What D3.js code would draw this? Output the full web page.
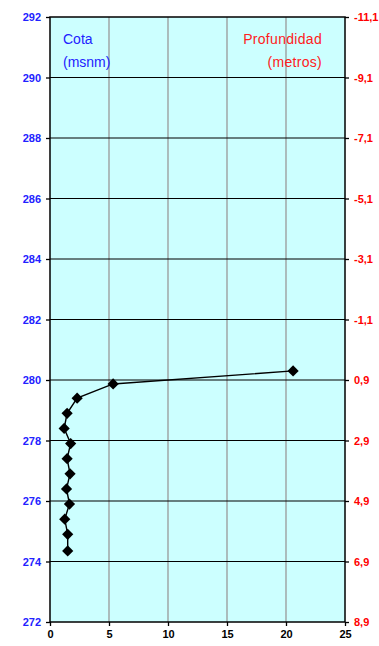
<!DOCTYPE html>
<html><head><meta charset="utf-8">
<script src="https://cdn.jsdelivr.net/npm/d3@7"></script>
<style>body{margin:0;background:#fff}svg{display:block}text{font-family:"Liberation Sans",Arial,sans-serif}</style>
</head><body><svg id="c" width="379" height="646"></svg>
<script>
const xValues = [20.6, 5.35, 2.3, 1.45, 1.2, 1.75, 1.45, 1.7, 1.4, 1.65, 1.25, 1.5, 1.5];
const cotaValues = [280.3, 279.87, 279.4, 278.9, 278.4, 277.9, 277.4, 276.9, 276.4, 275.9, 275.4, 274.9, 274.35];
const leftTicks = [272, 274, 276, 278, 280, 282, 284, 286, 288, 290, 292];
const rightTickLabels = ["8,9","6,9","4,9","2,9","0,9","-1,1","-3,1","-5,1","-7,1","-9,1","-11,1"];
const xTicks = [0, 5, 10, 15, 20, 25];

const svg = d3.select("#c");
const L = 50, R = 345, T = 17, B = 622;
const x = d3.scaleLinear().domain([0, 25]).range([L, R]);
const y = d3.scaleLinear().domain([272, 292]).range([B, T]);

svg.append("rect").attr("x", L).attr("y", T).attr("width", R - L).attr("height", B - T).attr("fill", "#ccffff");

// vertical grid
svg.append("g").selectAll("line").data(xTicks.slice(1, -1)).join("line")
  .attr("x1", d => x(d)).attr("x2", d => x(d)).attr("y1", T).attr("y2", B)
  .attr("stroke", "#999").attr("stroke-width", 1.3);
// horizontal grid
svg.append("g").selectAll("line").data(leftTicks.slice(1, -1)).join("line")
  .attr("x1", L).attr("x2", R).attr("y1", d => y(d)).attr("y2", d => y(d))
  .attr("stroke", "#000").attr("stroke-width", 1.2);

svg.append("rect").attr("x", L).attr("y", T).attr("width", R - L).attr("height", B - T)
  .attr("fill", "none").attr("stroke", "#000").attr("stroke-width", 1.5);

// left axis
const gl = svg.append("g").attr("transform", `translate(${L},0)`)
  .call(d3.axisLeft(y).tickValues(leftTicks).tickSize(4).tickPadding(5).tickFormat(d3.format("d")));
gl.select(".domain").remove();
gl.selectAll("line").attr("stroke", "#000").attr("stroke-width", 1.3);
gl.selectAll("text").attr("fill", "#2222ff").attr("font-size", 11).attr("font-weight", "bold").attr("dy", "0.35em");

// right axis
const gr = svg.append("g").attr("transform", `translate(${R},0)`)
  .call(d3.axisRight(y).tickValues(leftTicks).tickSize(4).tickPadding(5).tickFormat((d, i) => rightTickLabels[i]));
gr.select(".domain").remove();
gr.selectAll("line").attr("stroke", "#000").attr("stroke-width", 1.3);
gr.selectAll("text").attr("fill", "#ff0000").attr("font-size", 11).attr("font-weight", "bold").attr("dy", "0.35em");

// bottom axis
const gb = svg.append("g").attr("transform", `translate(0,${B})`)
  .call(d3.axisBottom(x).tickValues(xTicks).tickSize(4).tickPadding(4));
gb.select(".domain").remove();
gb.selectAll("line").attr("stroke", "#000").attr("stroke-width", 1.3);
gb.selectAll("text").attr("fill", "#000").attr("font-size", 11).attr("font-weight", "bold");

// labels
svg.append("text").attr("x", 63).attr("y", 44).attr("fill", "#2222ff").attr("font-size", 14).text("Cota");
svg.append("text").attr("x", 63).attr("y", 67).attr("fill", "#2222ff").attr("font-size", 14).text("(msnm)");
svg.append("text").attr("x", 322).attr("y", 44).attr("text-anchor", "end").attr("fill", "#ff2020").attr("font-size", 14).attr("letter-spacing", 0.3).text("Profundidad");
svg.append("text").attr("x", 322).attr("y", 67).attr("text-anchor", "end").attr("fill", "#ff2020").attr("font-size", 14).attr("letter-spacing", 0.3).text("(metros)");

const pts = xValues.map((v, i) => [v, cotaValues[i]]);
svg.append("path").datum(pts)
  .attr("d", d3.line().x(d => x(d[0])).y(d => y(d[1])))
  .attr("fill", "none").attr("stroke", "#000").attr("stroke-width", 1.4);
svg.append("g").selectAll("path").data(pts).join("path")
  .attr("transform", d => `translate(${x(d[0])},${y(d[1])})`)
  .attr("d", d3.symbol(d3.symbolDiamond2, 80)())
  .attr("fill", "#000");
</script></body></html>
